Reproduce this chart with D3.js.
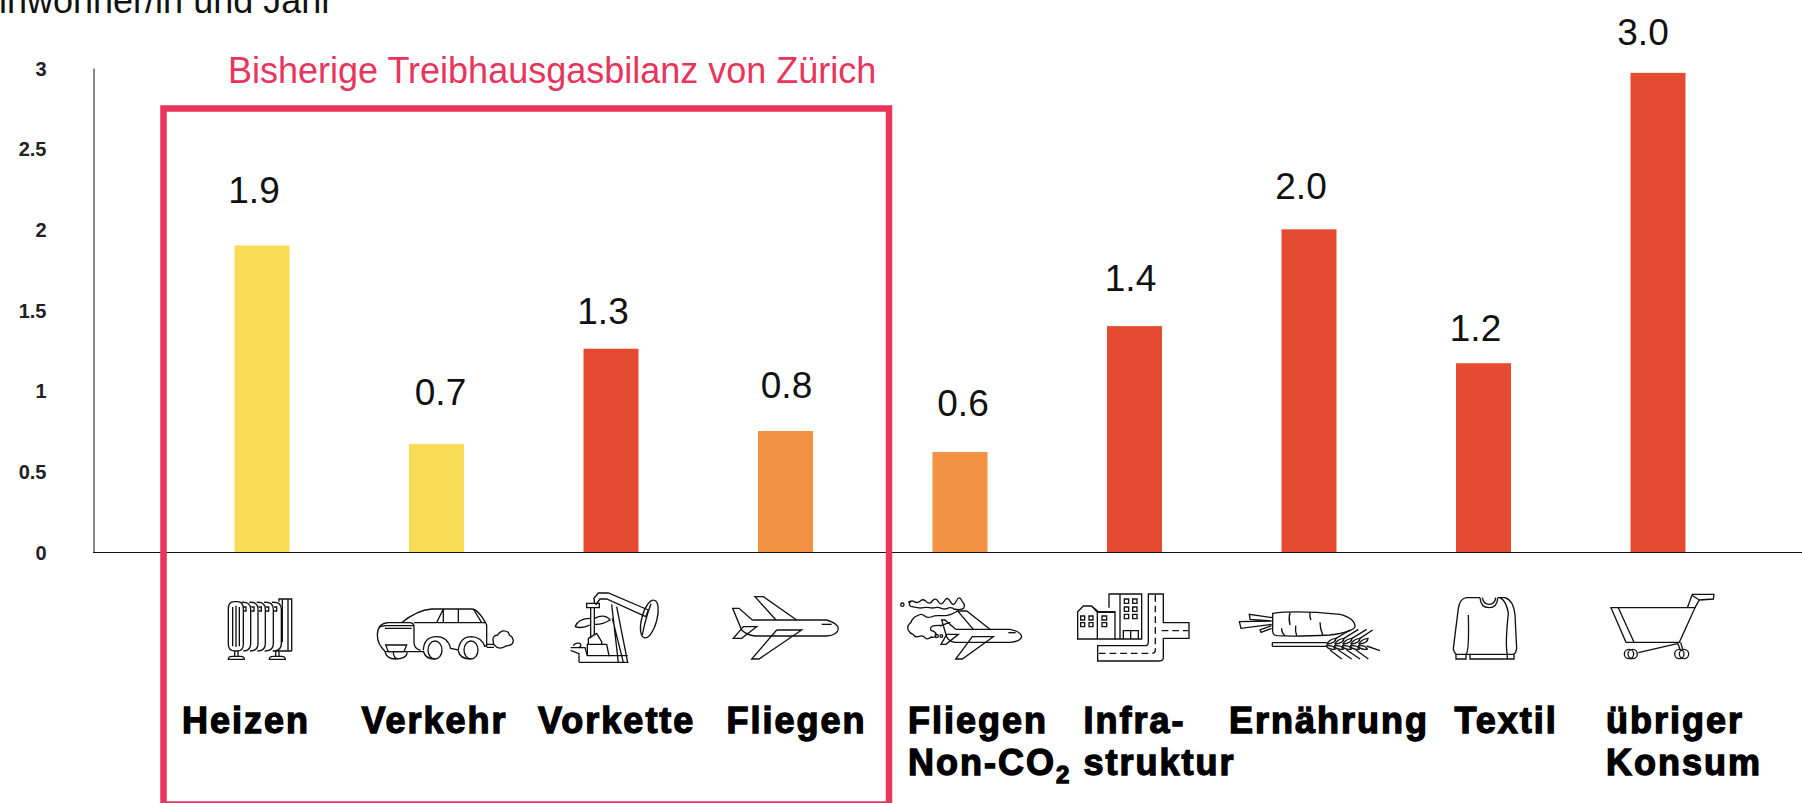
<!DOCTYPE html>
<html>
<head>
<meta charset="utf-8">
<script src="https://cdnjs.cloudflare.com/ajax/libs/d3/7.8.5/d3.min.js"></script>
<style>
  html, body { margin: 0; padding: 0; background: #fff; overflow: hidden; }
  svg { display: block; }
  text { font-family: "Liberation Sans", Arial, sans-serif; }
</style>
</head>
<body>
<div id="chart"></div>
<script>
// values
const categories = ["Heizen", "Verkehr", "Vorkette", "Fliegen", "Fliegen Non-CO2", "Infrastruktur", "Ernährung", "Textil", "übriger Konsum"];
const values = [1.9, 0.67, 1.26, 0.75, 0.62, 1.4, 2.0, 1.17, 2.97];
const valueLabels = ["1.9", "0.7", "1.3", "0.8", "0.6", "1.4", "2.0", "1.2", "3.0"];
const tickValues = [0, 0.5, 1, 1.5, 2, 2.5, 3];
const yellow = "#f7dc56", orange = "#f39242", red = "#e54b30", pink = "#e9345b";
const barColors = [yellow, yellow, red, orange, orange, red, red, red, red];

// hand placed in the original, so offsets are per bar
const labelDx = [-8, 4, -8, 1, 3, -4, -8, -8, -15];
const labelDy = [-42, -39, -25, -33, -36, -35, -30, -22, -28];
const nameLines = [["Heizen"], ["Verkehr"], ["Vorkette"], ["Fliegen"], ["Fliegen", "Non-CO"], ["Infra-", "struktur"], ["Ernährung"], ["Textil"], ["übriger", "Konsum"]];
const nameDx = [-80, -75, -73, -59, -52, -51, -80, -29, -52];

const width = 1802, height = 803;

const svg = d3.select("#chart")
  .append("svg")
  .attr("width", width)
  .attr("height", height);

svg.append("rect")
  .attr("width", width)
  .attr("height", height)
  .attr("fill", "#fff");

const x = d3.scaleBand()
  .domain(categories)
  .range([174.75, 1745.25])
  .paddingInner(0.685)
  .paddingOuter(0.685 / 2);

const y = d3.scaleLinear()
  .domain([0, 3])
  .range([552, 68]);

// Bars
svg.selectAll(".bar")
  .data(categories)
  .enter()
  .append("rect")
  .attr("class", "bar")
  .attr("x", d => x(d))
  .attr("y", (d, i) => y(values[i]))
  .attr("width", x.bandwidth())
  .attr("height", (d, i) => y(0) - y(values[i]))
  .attr("fill", (d, i) => barColors[i]);

// Y axis
const yAxis = svg.append("g")
  .attr("transform", "translate(93.5,0)")
  .call(d3.axisLeft(y).tickValues(tickValues).tickSize(0).tickFormat(d => String(d)));
yAxis.select(".domain").attr("stroke", "#111");
yAxis.selectAll("text")
  .attr("x", -47)
  .attr("dy", "0.36em")
  .attr("fill", "#222")
  .attr("font-family", "Liberation Sans")
  .attr("font-weight", "bold")
  .attr("font-size", 20);

// X axis runs off the right edge
svg.append("line")
  .attr("x1", 93)
  .attr("x2", width)
  .attr("y1", y(0) + 0.5)
  .attr("y2", y(0) + 0.5)
  .attr("stroke", "#111")
  .attr("stroke-width", 1.2);

// Pink box
svg.append("rect")
  .attr("x", 163.5)
  .attr("y", 108.5)
  .attr("width", 725.5)
  .attr("height", 696)
  .attr("fill", "none")
  .attr("stroke", pink)
  .attr("stroke-width", 6.5);

svg.append("text")
  .attr("x", 228)
  .attr("y", 83)
  .attr("fill", pink)
  .attr("font-size", 36)
  .text("Bisherige Treibhausgasbilanz von Zürich");

svg.append("text")
  .attr("x", -25)
  .attr("y", 13)
  .attr("fill", "#111")
  .attr("font-size", 36)
  .text("Einwohner/in und Jahr");

// Value labels
svg.selectAll(".value")
  .data(categories)
  .enter()
  .append("text")
  .attr("class", "value")
  .attr("x", (d, i) => x(d) + x.bandwidth() / 2 + labelDx[i])
  .attr("y", (d, i) => y(values[i]) + labelDy[i])
  .attr("text-anchor", "middle")
  .attr("fill", "#111")
  .attr("font-size", 37)
  .text((d, i) => valueLabels[i]);

// Category names, heavy type
const names = svg.selectAll(".name")
  .data(categories)
  .enter()
  .append("text")
  .attr("class", "name")
  .attr("transform", (d, i) => `translate(${x(d) + x.bandwidth() / 2 + nameDx[i]},733)`)
  .attr("fill", "#000")
  .attr("stroke", "#000")
  .attr("stroke-width", 1.3)
  .attr("font-weight", "bold")
  .attr("font-size", 36)
  .attr("letter-spacing", 2);

names.each(function (d, i) {
  const t = d3.select(this);
  nameLines[i].forEach((line, k) => {
    t.append("tspan").attr("x", 0).attr("y", k * 42).text(line);
  });
  if (d === "Fliegen Non-CO2") {
    t.append("tspan").attr("dy", 8).attr("font-size", 24).text("2");
  }
});

// Icons, in 3x units of their crop
const icons = [
  { at: [210, 585], d: [
    "M78 50 H72 Q55 50 55 72 V178 Q55 198 75 198 H82 Q100 198 100 178 V72 Q100 50 82 50Z",
    "M68 66 V184 M78 62 V186 M88 66 V184",
    "M95 52 Q122 50 122 72 V178 Q120 198 100 198",
    "M118 52 Q144 50 144 72 V178 Q142 198 120 198",
    "M140 52 Q166 50 166 72 V178 Q164 198 142 198",
    "M162 52 Q190 50 190 72 V178 Q188 198 164 198",
    "M186 52 Q214 50 214 72 V178 Q212 198 188 198 H245",
    "M207 50 V42 H245 V198 M217 42 V172 M234 42 V198",
    "M100 66 h8 v12 h-8 M124 66 h8 v12 h-8 M146 66 h8 v12 h-8 M168 66 h8 v12 h-8 M192 66 h8 v12 h-8",
    "M74 198 V214 M84 198 V214 M55 223 Q55 214 66 214 H92 Q103 214 103 223Z",
    "M197 198 V214 M207 198 V214 M178 223 Q178 214 189 214 H215 Q226 214 226 223Z"
  ] },
  { at: [210, 585], d: [
    "M575 113 Q620 76 665 72 H785 Q805 72 830 120 V183 H822",
    "M502 150 Q502 115 535 113 H600 Q614 114 612 130 V172 Q612 192 632 196",
    "M510 125 L525 122 H612 M525 130 H605",
    "M502 150 Q502 178 526 200 H640",
    "M527 180 H590 L582 200 H535Z",
    "M640 196 Q642 155 680 155 Q712 155 722 190 L745 195 Q750 155 785 155 Q815 157 825 185",
    "M700 72 L680 113 H612 M680 113 H828 M700 72 V113 M745 72 V113 M790 72 L815 113",
    "M654 195 a21 27 0 1 0 42 0 a21 27 0 1 0 -42 0",
    "M762 195 a21 27 0 1 0 42 0 a21 27 0 1 0 -42 0",
    "M525 202 Q532 222 555 222 Q590 222 592 202 M550 202 Q550 222 568 222",
    "M640 198 Q645 222 674 222 M745 198 Q750 222 782 222",
    "M830 178 H850 M830 187 H852",
    "M850 170 Q845 152 863 150 Q875 130 895 142 Q897 152 905 155 Q916 172 902 180 Q885 182 878 188 Q862 192 855 182 Q849 178 850 170Z"
  ] },
  { at: [555, 585], d: [
    "M115 42 L130 24 H160 L280 75 L272 95 L155 42 H135 L122 60",
    "M298 46 A22 58 15 1 1 268 158 A22 58 15 1 1 298 46Z",
    "M288 56 Q270 105 262 150",
    "M170 58 L190 232 M185 65 L218 232 M172 100 L205 232",
    "M72 232 H220 M72 232 V212 M160 212 H218",
    "M95 55 H133 V68 H95Z M107 68 V160 M118 68 V150 M118 42 V55",
    "M60 125 Q70 100 105 100 M118 100 Q150 85 165 105 Q140 120 118 118 M105 120 Q80 132 60 125",
    "M100 160 L125 145 L140 170 V180 M100 160 V178",
    "M97 178 H155 L162 212 H97Z",
    "M47 188 H90 L97 212 M55 182 Q60 172 75 175 Q82 185 70 188 M47 196 L72 206 V212"
  ] },
  { at: [555, 585], d: [
    "M592 105 H815 Q850 115 850 132 Q848 150 815 153 H600 Q575 150 560 135 L533 70 H552 L592 105",
    "M663 105 L600 35 H625 L725 105",
    "M665 135 H740 L612 222 H590 L665 135",
    "M565 125 H605 L560 160 H535Z",
    "M800 118 H830"
  ] },
  { at: [885, 585], d: [
    "M212 133 H375 Q408 140 410 155 Q405 170 375 172 H210 Q190 168 185 155 L170 105 H180 L212 133",
    "M265 133 L218 78 H245 L315 133",
    "M262 155 H325 L232 222 H212Z",
    "M185 148 H220 L183 178 H168Z",
    "M370 143 H392",
    "M70 52 q9 -8 18 -2 t18 -2 t18 2 t18 -2 t18 2 t18 -2 t18 2 t18 -2 t18 2 q10 8 4 20 q-6 6 -30 2 L205 70 q-10 -4 -18 0 t-18 0 t-18 -2 t-18 0 t-18 0 t-18 0 t-20 -4 q-8 -6 0 -14Z",
    "M218 78 q-10 6 -20 10 t-20 4 t-20 0 t-20 4 t-20 -4 t-20 0 q-14 4 -20 20 q-14 10 -8 24 q6 10 14 12 q6 10 18 6 t18 4 t18 -2 q14 4 16 -8 q-4 -10 -16 -12 q-6 -12 12 -14 t16 0 t18 -6 l12 -4",
    "M47 59 a5 5 0 1 0 10 0 a5 5 0 1 0 -10 0",
    "M150 153 a5 5 0 1 0 10 0 a5 5 0 1 0 -10 0 M165 153 a4 4 0 1 0 8 0 a4 4 0 1 0 -8 0"
  ] },
  { at: [885, 585], d: [
    "M578 80 L595 63 H620 L637 82 V162 H578Z M620 63 L640 80 H690 V162 H637 M637 82 L690 82",
    "M587 93 h12 v12 h-12z M612 93 h12 v12 h-12z M587 113 h12 v12 h-12z M612 113 h12 v12 h-12z M651 93 h14 v12 h-14z M651 113 h14 v12 h-14z",
    "M672 68 V27 H770 V162 H690 M705 27 V162",
    "M718 42 h13 v13 h-13z M743 42 h13 v13 h-13z M718 66 h13 v13 h-13z M743 66 h13 v13 h-13z M718 88 h13 v13 h-13z M743 88 h13 v13 h-13z",
    "M715 162 V137 H760 V162 M737 137 V162",
    "M790 27 H835 V113 H912 V160 H835 V218 Q835 228 820 228 H638 V182 H780 Q790 182 790 170Z"
  ] },
  { at: [885, 585], dash: true, d: [
    "M811 30 V195 Q811 205 800 205 H640",
    "M830 137 H910"
  ] },
  { at: [1230, 585], d: [
    "M128 85 Q200 75 330 88 Q375 100 375 125 Q370 140 300 150 Q200 155 140 152 Q125 150 128 130Z",
    "M180 82 Q175 100 180 120 M240 82 Q238 95 243 105 M155 130 Q155 145 165 152 M197 122 Q195 140 200 152 M270 112 Q270 130 278 150",
    "M128 98 L58 88 L60 103 L125 108 M125 108 L28 110 L33 130 L125 118 M125 122 L90 135 L93 142 L125 130",
    "M127 173 H290 M127 184 H290 M127 173 V184",
    "M290 178 q8 -16 28 -18 q0 14 -28 18 M288 182 q8 14 28 10 q-4 -12 -28 -10",
    "M314 178 q8 -16 28 -18 q0 14 -28 18 M312 182 q8 14 28 10 q-4 -12 -28 -10",
    "M338 178 q8 -16 28 -18 q0 14 -28 18 M336 182 q8 14 28 10 q-4 -12 -28 -10",
    "M362 178 q8 -16 28 -18 q0 14 -28 18 M360 182 q8 14 28 10 q-4 -12 -28 -10",
    "M386 178 q8 -16 28 -18 q0 14 -28 18 M384 182 q8 14 28 10 q-4 -12 -28 -10",
    "M318 160 L360 135 M342 160 L385 133 M366 160 L410 133 M390 160 L428 135",
    "M300 195 L335 222 M325 195 L365 222 M350 195 L390 222 M378 195 L415 222 M410 183 L450 197"
  ] },
  { at: [1230, 585], d: [
    "M750 38 H710 Q690 40 685 70 L670 190 Q672 205 680 208 H708 Q718 200 715 90",
    "M710 208 H835",
    "M803 38 H825 Q850 45 855 90 L860 190 Q858 205 850 208 H832 Q825 180 835 85 Q830 50 810 38",
    "M750 38 Q752 68 777 68 Q802 68 803 38 M757 38 Q760 58 777 58 Q795 58 797 38",
    "M678 208 V222 H708 V208 M720 208 V222 H832 V208 M832 222 H852 V208"
  ] },
  { at: [1440, 585], d: [
    "M513 68 H765 L718 172 H558Z",
    "M535 68 L582 172",
    "M742 68 L757 28 H822 L820 42 L778 45 L765 68 M755 30 L778 45",
    "M553 207 a14 14 0 1 0 28 0 a14 14 0 1 0 -28 0 M564 207 a14 14 0 1 0 28 0 a14 14 0 1 0 -28 0",
    "M704 207 a14 14 0 1 0 28 0 a14 14 0 1 0 -28 0 M718 207 a14 14 0 1 0 28 0 a14 14 0 1 0 -28 0",
    "M595 203 L715 175 M712 172 L720 193 M722 172 L728 193"
  ] }
];

const icon = svg.selectAll(".icon")
  .data(icons)
  .enter()
  .append("g")
  .attr("class", "icon")
  .attr("transform", d => `translate(${d.at[0]},${d.at[1]}) scale(${1 / 3})`)
  .attr("fill", "none")
  .attr("stroke", "#111")
  .attr("stroke-width", 4)
  .attr("stroke-dasharray", d => d.dash ? "20 12" : null);

icon.selectAll("path")
  .data(d => d.d)
  .enter()
  .append("path")
  .attr("d", d => d);
</script>
</body>
</html>
